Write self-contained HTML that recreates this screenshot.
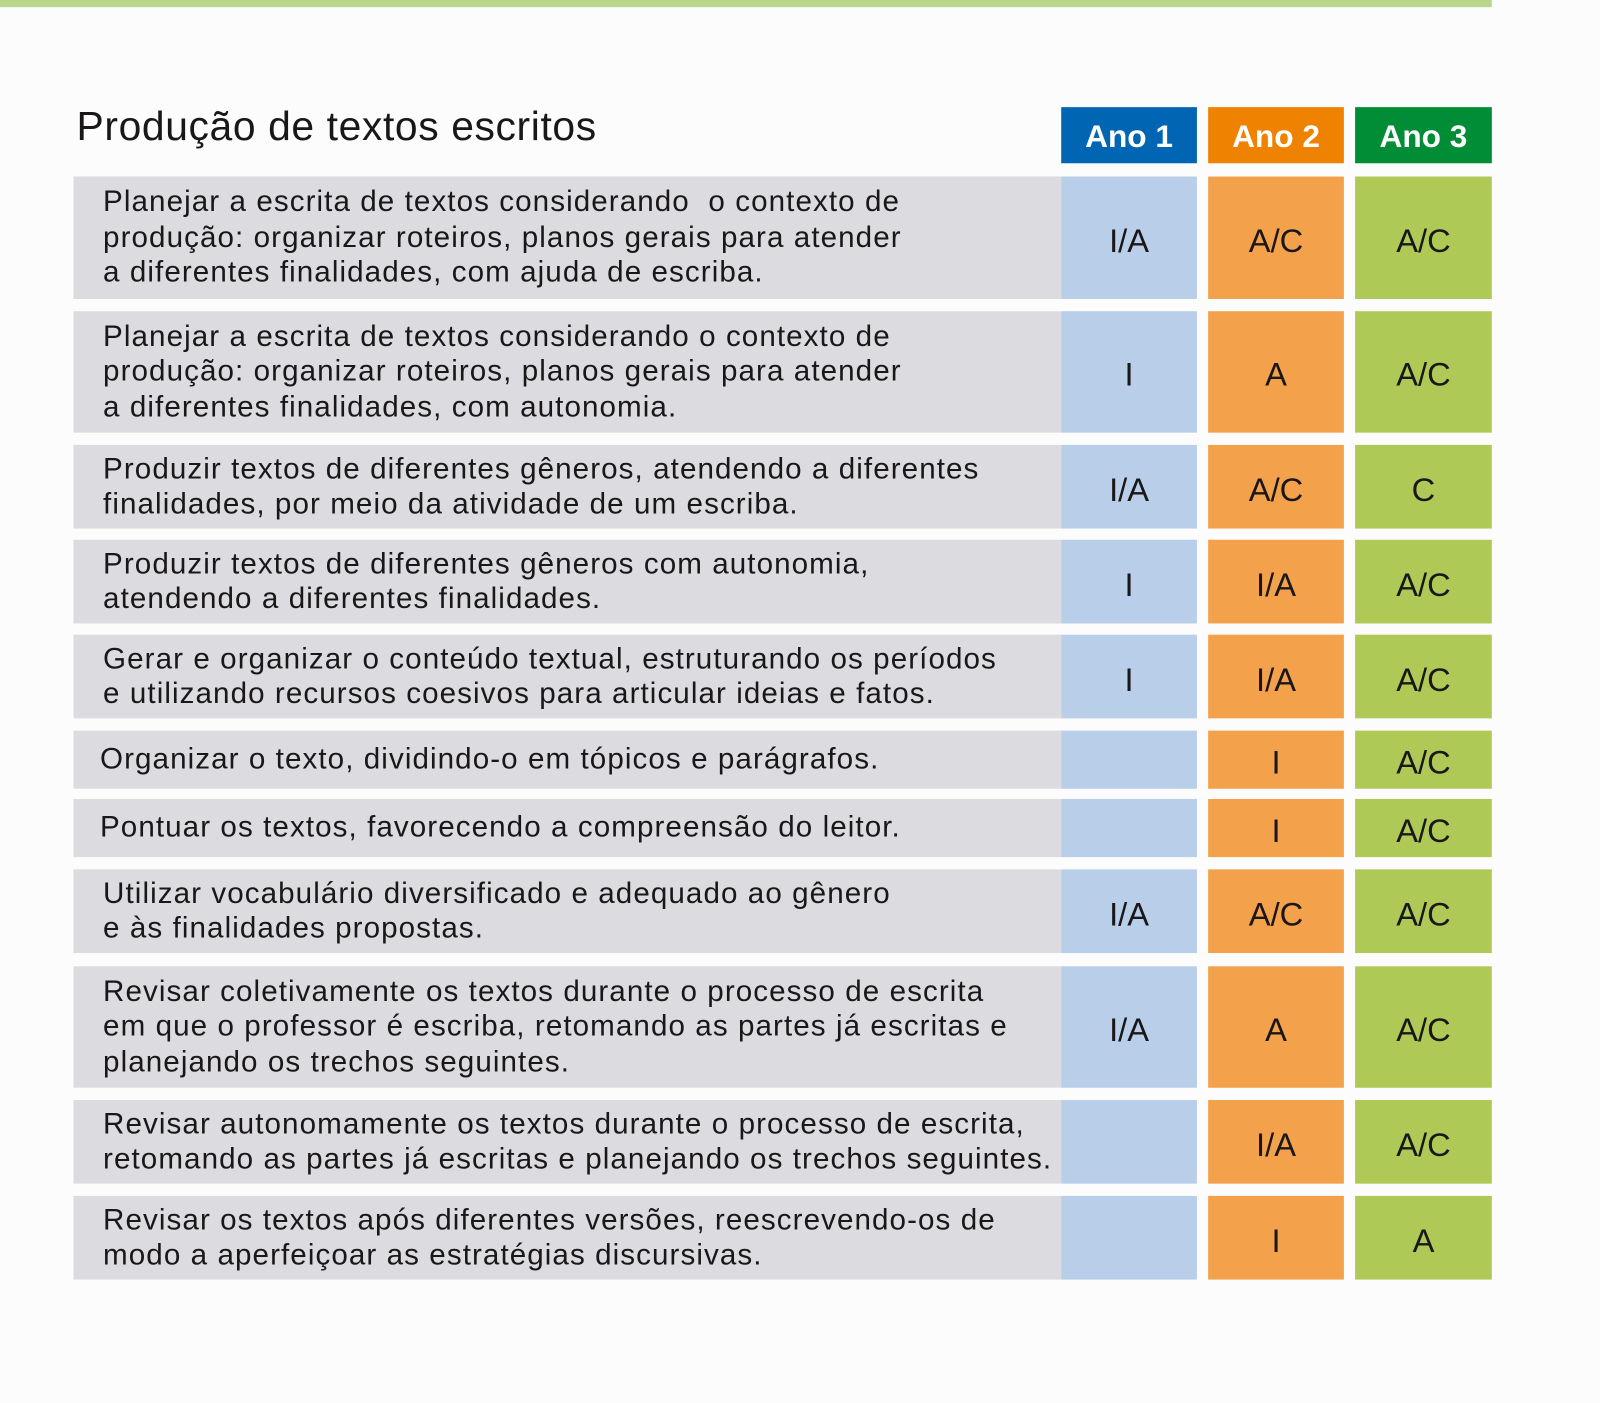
<!DOCTYPE html>
<html><head><meta charset="utf-8"><style>
html,body{margin:0;padding:0;background:#fcfcfc;width:1600px;height:1403px;overflow:hidden}
#wrap{position:absolute;left:0;top:0;width:1568px;height:1375px;transform:scale(1.0204);transform-origin:0 0;font-family:"Liberation Sans",sans-serif;color:#1a1718}
.abs{position:absolute}
.strip{left:0;top:0;width:1462px;height:7px;background:#b8d68c}
.title{left:75px;top:102px;font-size:40px;letter-spacing:0.6px;white-space:nowrap}
.hdr{top:105px;height:55px;width:133px;color:#fff;font-weight:bold;font-size:31px;display:flex;align-items:center;justify-content:center;padding-top:2px;box-sizing:border-box}
.row{left:72px;width:968px;background:#dcdbdf;display:flex;align-items:center}
.row span{display:block;padding-left:29px;font-size:29px;line-height:34.5px;letter-spacing:1.05px;white-space:pre}
.cell{width:133px;display:flex;align-items:center;justify-content:center;font-size:32px;padding-top:6px;box-sizing:border-box}
</style></head><body>
<div id="wrap">
<div class="abs strip"></div>
<div class="abs title">Produção de textos escritos</div>
<div class="abs hdr" style="left:1040px;background:#0066b3">Ano 1</div>
<div class="abs hdr" style="left:1184px;background:#ef8200">Ano 2</div>
<div class="abs hdr" style="left:1328px;background:#008d36;width:134px">Ano 3</div>
<div id="rows"></div>
</div>
<script>
const rowTops=[173,305,436,529,622,716,783,852,947,1078,1172];
const rowBottoms=[293,424,518,611,704,773,840,934,1066,1160,1254];
const texts=[
"Planejar a escrita de textos considerando  o contexto de\nprodução: organizar roteiros, planos gerais para atender\na diferentes finalidades, com ajuda de escriba.",
"Planejar a escrita de textos considerando o contexto de\nprodução: organizar roteiros, planos gerais para atender\na diferentes finalidades, com autonomia.",
"Produzir textos de diferentes gêneros, atendendo a diferentes\nfinalidades, por meio da atividade de um escriba.",
"Produzir textos de diferentes gêneros com autonomia,\natendendo a diferentes finalidades.",
"Gerar e organizar o conteúdo textual, estruturando os períodos\ne utilizando recursos coesivos para articular ideias e fatos.",
"Organizar o texto, dividindo-o em tópicos e parágrafos.",
"Pontuar os textos, favorecendo a compreensão do leitor.",
"Utilizar vocabulário diversificado e adequado ao gênero\ne às finalidades propostas.",
"Revisar coletivamente os textos durante o processo de escrita\nem que o professor é escriba, retomando as partes já escritas e\nplanejando os trechos seguintes.",
"Revisar autonomamente os textos durante o processo de escrita,\nretomando as partes já escritas e planejando os trechos seguintes.",
"Revisar os textos após diferentes versões, reescrevendo-os de\nmodo a aperfeiçoar as estratégias discursivas."
];
const ano1=["I/A","I","I/A","I","I","","","I/A","I/A","",""];
const ano2=["A/C","A","A/C","I/A","I/A","I","I","A/C","A","I/A","I"];
const ano3=["A/C","A/C","C","A/C","A/C","A/C","A/C","A/C","A/C","A/C","A"];
const cols=[{left:1040,w:133,bg:"#b8cee9",vals:ano1,n:"ano-1"},{left:1184,w:133,bg:"#f3a14b",vals:ano2,n:"ano-2"},{left:1328,w:134,bg:"#aec956",vals:ano3,n:"ano-3"}];
const host=document.getElementById('rows');
texts.forEach((t,i)=>{
  const h=rowBottoms[i]-rowTops[i];
  const r=document.createElement('div');
  r.className='abs row';
  r.style.top=rowTops[i]+'px';r.style.height=h+'px';
  
  
  const s=document.createElement('span');s.textContent=t;
  if(i===5||i===6)s.style.paddingLeft='26px';
  r.appendChild(s);host.appendChild(r);
  cols.forEach(c=>{
    const d=document.createElement('div');
    d.className='abs cell';
    d.style.left=c.left+'px';d.style.width=c.w+'px';d.style.top=rowTops[i]+'px';d.style.height=h+'px';d.style.background=c.bg;
    d.textContent=c.vals[i];
    
    
    host.appendChild(d);
  });
});
</script>
</body></html>
